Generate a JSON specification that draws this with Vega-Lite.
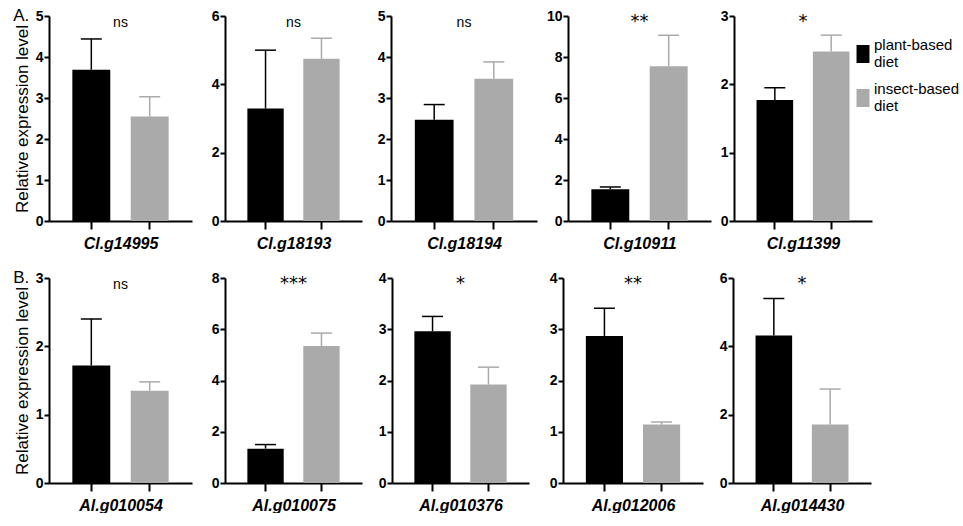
{
  "$schema": "https://vega.github.io/schema/vega-lite/v6.json",
  "padding": {"left": 13, "top": 7, "right": 0, "bottom": 0},
  "background": "white",
  "spacing": 18,
  "config": {
    "font": "Liberation Sans",
    "view": {"stroke": null},
    "scale": {"bandPaddingInner": 0.35, "bandPaddingOuter": 0.4},
    "tick": {"opacity": 1},
    "axis": {"grid": false, "domainColor": "#000000", "domainWidth": 2, "tickColor": "#000000", "tickWidth": 2, "labelColor": "#000000", "titleColor": "#000000", "labelFont": "Liberation Sans", "titleFont": "Liberation Sans"},
    "axisY": {"tickSize": 5, "labelFontSize": 14, "labelFontWeight": "bold", "labelPadding": 1, "titleFontSize": 17, "titleFontWeight": "normal", "titlePadding": 4},
    "axisX": {"tickSize": 8, "labels": false, "titleFontSize": 16, "titleFontWeight": "bold", "titleFontStyle": "italic", "titlePadding": 5},
    "title": {"fontSize": 14, "fontWeight": "normal", "color": "#000000", "font": "Liberation Sans", "offset": -21, "frame": "group"},
    "legend": {"orient": "none", "legendX": 805, "legendY": 29, "labelFontSize": 15, "labelColor": "#000000", "labelFont": "Liberation Sans", "labelBaseline": "line-bottom", "symbolSize": 324, "symbolStrokeWidth": 0, "symbolOpacity": 1, "labelOffset": 2, "rowPadding": 12, "padding": 0}
  },
  "data": {"values": [
    {"gene": "Cl.g14995", "diet": "plant-based diet", "mean": 3.69, "upper": 4.44},
    {"gene": "Cl.g14995", "diet": "insect-based diet", "mean": 2.55, "upper": 3.03},
    {"gene": "Cl.g18193", "diet": "plant-based diet", "mean": 3.29, "upper": 5.0},
    {"gene": "Cl.g18193", "diet": "insect-based diet", "mean": 4.75, "upper": 5.35},
    {"gene": "Cl.g18194", "diet": "plant-based diet", "mean": 2.47, "upper": 2.84},
    {"gene": "Cl.g18194", "diet": "insect-based diet", "mean": 3.47, "upper": 3.88},
    {"gene": "Cl.g10911", "diet": "plant-based diet", "mean": 1.55, "upper": 1.66},
    {"gene": "Cl.g10911", "diet": "insect-based diet", "mean": 7.55, "upper": 9.06},
    {"gene": "Cl.g11399", "diet": "plant-based diet", "mean": 1.77, "upper": 1.95},
    {"gene": "Cl.g11399", "diet": "insect-based diet", "mean": 2.48, "upper": 2.72},
    {"gene": "Al.g010054", "diet": "plant-based diet", "mean": 1.72, "upper": 2.4},
    {"gene": "Al.g010054", "diet": "insect-based diet", "mean": 1.35, "upper": 1.48},
    {"gene": "Al.g010075", "diet": "plant-based diet", "mean": 1.34, "upper": 1.5},
    {"gene": "Al.g010075", "diet": "insect-based diet", "mean": 5.35, "upper": 5.85},
    {"gene": "Al.g010376", "diet": "plant-based diet", "mean": 2.96, "upper": 3.25},
    {"gene": "Al.g010376", "diet": "insect-based diet", "mean": 1.92, "upper": 2.26},
    {"gene": "Al.g012006", "diet": "plant-based diet", "mean": 2.87, "upper": 3.41},
    {"gene": "Al.g012006", "diet": "insect-based diet", "mean": 1.14, "upper": 1.19},
    {"gene": "Al.g014430", "diet": "plant-based diet", "mean": 4.32, "upper": 5.4},
    {"gene": "Al.g014430", "diet": "insect-based diet", "mean": 1.71, "upper": 2.75}
  ]},
  "vconcat": [
    {
      "title": {"text": "A.", "anchor": "start", "frame": "bounds", "offset": -16, "fontSize": 17, "fontWeight": "normal"},
      "spacing": 8,
      "hconcat": [
        {"width": 143, "height": 205, "title": {"text": "ns"},
         "transform": [{"filter": {"field": "gene", "equal": "Cl.g14995"}}],
         "encoding": {"x": {"field": "diet", "type": "nominal", "sort": ["plant-based diet", "insect-based diet"], "axis": {"title": "Cl.g14995"}},
           "color": {"field": "diet", "type": "nominal", "scale": {"domain": ["plant-based diet", "insect-based diet"], "range": ["#000000", "#aaaaaa"]}, "legend": {"title": null, "symbolType": "M-0.72,-1H0.72V1H-0.72Z", "labelExpr": "split(datum.label, ' ')"}}},
         "layer": [
           {"mark": "bar", "encoding": {"y": {"field": "mean", "type": "quantitative", "title": "Relative expression level", "scale": {"domain": [0, 5]}, "axis": {"values": [0, 1, 2, 3, 4, 5], "format": "d"}}}},
           {"mark": {"type": "rule", "strokeWidth": 1.5}, "encoding": {"y": {"field": "mean", "type": "quantitative", "title": "Relative expression level"}, "y2": {"field": "upper"}}},
           {"mark": {"type": "tick", "size": 21, "thickness": 1.5}, "encoding": {"y": {"field": "upper", "type": "quantitative", "title": "Relative expression level"}}}
         ]},
        {"width": 137, "height": 205, "title": {"text": "ns"},
         "transform": [{"filter": {"field": "gene", "equal": "Cl.g18193"}}],
         "encoding": {"x": {"field": "diet", "type": "nominal", "sort": ["plant-based diet", "insect-based diet"], "axis": {"title": "Cl.g18193"}},
           "color": {"field": "diet", "type": "nominal", "scale": {"domain": ["plant-based diet", "insect-based diet"], "range": ["#000000", "#aaaaaa"]}, "legend": {"title": null, "symbolType": "M-0.72,-1H0.72V1H-0.72Z", "labelExpr": "split(datum.label, ' ')"}}},
         "layer": [
           {"mark": "bar", "encoding": {"y": {"field": "mean", "type": "quantitative", "title": null, "scale": {"domain": [0, 6]}, "axis": {"values": [0, 2, 4, 6], "format": "d", "minExtent": 25}}}},
           {"mark": {"type": "rule", "strokeWidth": 1.5}, "encoding": {"y": {"field": "mean", "type": "quantitative", "title": null}, "y2": {"field": "upper"}}},
           {"mark": {"type": "tick", "size": 21, "thickness": 1.5}, "encoding": {"y": {"field": "upper", "type": "quantitative", "title": null}}}
         ]},
        {"width": 146, "height": 205, "title": {"text": "ns"},
         "transform": [{"filter": {"field": "gene", "equal": "Cl.g18194"}}],
         "encoding": {"x": {"field": "diet", "type": "nominal", "sort": ["plant-based diet", "insect-based diet"], "axis": {"title": "Cl.g18194"}},
           "color": {"field": "diet", "type": "nominal", "scale": {"domain": ["plant-based diet", "insect-based diet"], "range": ["#000000", "#aaaaaa"]}, "legend": {"title": null, "symbolType": "M-0.72,-1H0.72V1H-0.72Z", "labelExpr": "split(datum.label, ' ')"}}},
         "layer": [
           {"mark": "bar", "encoding": {"y": {"field": "mean", "type": "quantitative", "title": null, "scale": {"domain": [0, 5]}, "axis": {"values": [0, 1, 2, 3, 4, 5], "format": "d", "minExtent": 21}}}},
           {"mark": {"type": "rule", "strokeWidth": 1.5}, "encoding": {"y": {"field": "mean", "type": "quantitative", "title": null}, "y2": {"field": "upper"}}},
           {"mark": {"type": "tick", "size": 21, "thickness": 1.5}, "encoding": {"y": {"field": "upper", "type": "quantitative", "title": null}}}
         ]},
        {"width": 143, "height": 205, "title": {"text": "**", "font": "DejaVu Sans", "fontSize": 18, "offset": -22},
         "transform": [{"filter": {"field": "gene", "equal": "Cl.g10911"}}],
         "encoding": {"x": {"field": "diet", "type": "nominal", "sort": ["plant-based diet", "insect-based diet"], "axis": {"title": "Cl.g10911"}},
           "color": {"field": "diet", "type": "nominal", "scale": {"domain": ["plant-based diet", "insect-based diet"], "range": ["#000000", "#aaaaaa"]}, "legend": {"title": null, "symbolType": "M-0.72,-1H0.72V1H-0.72Z", "labelExpr": "split(datum.label, ' ')"}}},
         "layer": [
           {"mark": "bar", "encoding": {"y": {"field": "mean", "type": "quantitative", "title": null, "scale": {"domain": [0, 10]}, "axis": {"values": [0, 2, 4, 6, 8, 10], "format": "d", "minExtent": 23}}}},
           {"mark": {"type": "rule", "strokeWidth": 1.5}, "encoding": {"y": {"field": "mean", "type": "quantitative", "title": null}, "y2": {"field": "upper"}}},
           {"mark": {"type": "tick", "size": 21, "thickness": 1.5}, "encoding": {"y": {"field": "upper", "type": "quantitative", "title": null}}}
         ]},
        {"width": 138, "height": 205, "title": {"text": "*", "font": "DejaVu Sans", "fontSize": 18, "offset": -22},
         "transform": [{"filter": {"field": "gene", "equal": "Cl.g11399"}}],
         "encoding": {"x": {"field": "diet", "type": "nominal", "sort": ["plant-based diet", "insect-based diet"], "axis": {"title": "Cl.g11399"}},
           "color": {"field": "diet", "type": "nominal", "scale": {"domain": ["plant-based diet", "insect-based diet"], "range": ["#000000", "#aaaaaa"]}, "legend": {"title": null, "symbolType": "M-0.72,-1H0.72V1H-0.72Z", "labelExpr": "split(datum.label, ' ')"}}},
         "layer": [
           {"mark": "bar", "encoding": {"y": {"field": "mean", "type": "quantitative", "title": null, "scale": {"domain": [0, 3]}, "axis": {"values": [0, 1, 2, 3], "format": "d", "minExtent": 15}}}},
           {"mark": {"type": "rule", "strokeWidth": 1.5}, "encoding": {"y": {"field": "mean", "type": "quantitative", "title": null}, "y2": {"field": "upper"}}},
           {"mark": {"type": "tick", "size": 21, "thickness": 1.5}, "encoding": {"y": {"field": "upper", "type": "quantitative", "title": null}}}
         ]}
      ]
    },
    {
      "title": {"text": "B.", "anchor": "start", "frame": "bounds", "offset": -16, "fontSize": 17, "fontWeight": "normal"},
      "spacing": 8,
      "hconcat": [
        {"width": 143, "height": 205, "title": {"text": "ns"},
         "transform": [{"filter": {"field": "gene", "equal": "Al.g010054"}}],
         "encoding": {"x": {"field": "diet", "type": "nominal", "sort": ["plant-based diet", "insect-based diet"], "axis": {"title": "Al.g010054"}},
           "color": {"field": "diet", "type": "nominal", "scale": {"domain": ["plant-based diet", "insect-based diet"], "range": ["#000000", "#aaaaaa"]}, "legend": {"title": null, "symbolType": "M-0.72,-1H0.72V1H-0.72Z", "labelExpr": "split(datum.label, ' ')"}}},
         "layer": [
           {"mark": "bar", "encoding": {"y": {"field": "mean", "type": "quantitative", "title": "Relative expression level", "scale": {"domain": [0, 3]}, "axis": {"values": [0, 1, 2, 3], "format": "d"}}}},
           {"mark": {"type": "rule", "strokeWidth": 1.5}, "encoding": {"y": {"field": "mean", "type": "quantitative", "title": "Relative expression level"}, "y2": {"field": "upper"}}},
           {"mark": {"type": "tick", "size": 21, "thickness": 1.5}, "encoding": {"y": {"field": "upper", "type": "quantitative", "title": "Relative expression level"}}}
         ]},
        {"width": 137, "height": 205, "title": {"text": "***", "font": "DejaVu Sans", "fontSize": 18, "offset": -22},
         "transform": [{"filter": {"field": "gene", "equal": "Al.g010075"}}],
         "encoding": {"x": {"field": "diet", "type": "nominal", "sort": ["plant-based diet", "insect-based diet"], "axis": {"title": "Al.g010075"}},
           "color": {"field": "diet", "type": "nominal", "scale": {"domain": ["plant-based diet", "insect-based diet"], "range": ["#000000", "#aaaaaa"]}, "legend": {"title": null, "symbolType": "M-0.72,-1H0.72V1H-0.72Z", "labelExpr": "split(datum.label, ' ')"}}},
         "layer": [
           {"mark": "bar", "encoding": {"y": {"field": "mean", "type": "quantitative", "title": null, "scale": {"domain": [0, 8]}, "axis": {"values": [0, 2, 4, 6, 8], "format": "d", "minExtent": 25}}}},
           {"mark": {"type": "rule", "strokeWidth": 1.5}, "encoding": {"y": {"field": "mean", "type": "quantitative", "title": null}, "y2": {"field": "upper"}}},
           {"mark": {"type": "tick", "size": 21, "thickness": 1.5}, "encoding": {"y": {"field": "upper", "type": "quantitative", "title": null}}}
         ]},
        {"width": 137, "height": 205, "title": {"text": "*", "font": "DejaVu Sans", "fontSize": 18, "offset": -22},
         "transform": [{"filter": {"field": "gene", "equal": "Al.g010376"}}],
         "encoding": {"x": {"field": "diet", "type": "nominal", "sort": ["plant-based diet", "insect-based diet"], "axis": {"title": "Al.g010376"}},
           "color": {"field": "diet", "type": "nominal", "scale": {"domain": ["plant-based diet", "insect-based diet"], "range": ["#000000", "#aaaaaa"]}, "legend": {"title": null, "symbolType": "M-0.72,-1H0.72V1H-0.72Z", "labelExpr": "split(datum.label, ' ')"}}},
         "layer": [
           {"mark": "bar", "encoding": {"y": {"field": "mean", "type": "quantitative", "title": null, "scale": {"domain": [0, 4]}, "axis": {"values": [0, 1, 2, 3, 4], "format": "d", "minExtent": 22}}}},
           {"mark": {"type": "rule", "strokeWidth": 1.5}, "encoding": {"y": {"field": "mean", "type": "quantitative", "title": null}, "y2": {"field": "upper"}}},
           {"mark": {"type": "tick", "size": 21, "thickness": 1.5}, "encoding": {"y": {"field": "upper", "type": "quantitative", "title": null}}}
         ]},
        {"width": 140, "height": 205, "title": {"text": "**", "font": "DejaVu Sans", "fontSize": 18, "offset": -22},
         "transform": [{"filter": {"field": "gene", "equal": "Al.g012006"}}],
         "encoding": {"x": {"field": "diet", "type": "nominal", "sort": ["plant-based diet", "insect-based diet"], "axis": {"title": "Al.g012006"}},
           "color": {"field": "diet", "type": "nominal", "scale": {"domain": ["plant-based diet", "insect-based diet"], "range": ["#000000", "#aaaaaa"]}, "legend": {"title": null, "symbolType": "M-0.72,-1H0.72V1H-0.72Z", "labelExpr": "split(datum.label, ' ')"}}},
         "layer": [
           {"mark": "bar", "encoding": {"y": {"field": "mean", "type": "quantitative", "title": null, "scale": {"domain": [0, 4]}, "axis": {"values": [0, 1, 2, 3, 4], "format": "d", "minExtent": 26}}}},
           {"mark": {"type": "rule", "strokeWidth": 1.5}, "encoding": {"y": {"field": "mean", "type": "quantitative", "title": null}, "y2": {"field": "upper"}}},
           {"mark": {"type": "tick", "size": 21, "thickness": 1.5}, "encoding": {"y": {"field": "upper", "type": "quantitative", "title": null}}}
         ]},
        {"width": 138, "height": 205, "title": {"text": "*", "font": "DejaVu Sans", "fontSize": 18, "offset": -22},
         "transform": [{"filter": {"field": "gene", "equal": "Al.g014430"}}],
         "encoding": {"x": {"field": "diet", "type": "nominal", "sort": ["plant-based diet", "insect-based diet"], "axis": {"title": "Al.g014430"}},
           "color": {"field": "diet", "type": "nominal", "scale": {"domain": ["plant-based diet", "insect-based diet"], "range": ["#000000", "#aaaaaa"]}, "legend": {"title": null, "symbolType": "M-0.72,-1H0.72V1H-0.72Z", "labelExpr": "split(datum.label, ' ')"}}},
         "layer": [
           {"mark": "bar", "encoding": {"y": {"field": "mean", "type": "quantitative", "title": null, "scale": {"domain": [0, 6]}, "axis": {"values": [0, 2, 4, 6], "format": "d", "minExtent": 22}}}},
           {"mark": {"type": "rule", "strokeWidth": 1.5}, "encoding": {"y": {"field": "mean", "type": "quantitative", "title": null}, "y2": {"field": "upper"}}},
           {"mark": {"type": "tick", "size": 21, "thickness": 1.5}, "encoding": {"y": {"field": "upper", "type": "quantitative", "title": null}}}
         ]}
      ]
    }
  ]
}
